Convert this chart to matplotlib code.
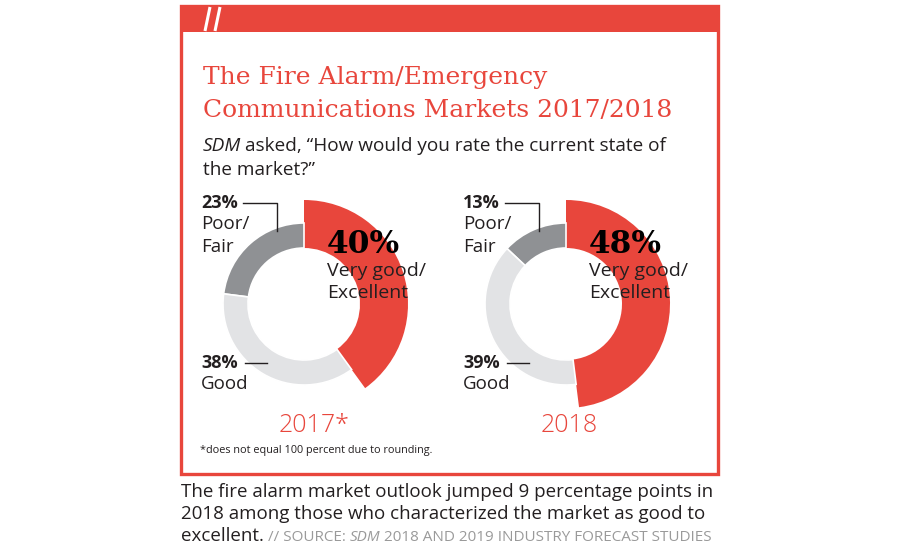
import matplotlib
matplotlib.use("Agg")
import matplotlib.pyplot as plt
from matplotlib.patches import Wedge, Rectangle

# --- data ---
years = ["2017*", "2018"]
very_good = [40, 48]     # Very good/Excellent
good = [38, 39]          # Good
poor = [23, 13]          # Poor/Fair

RED = "#E8463C"
DARK = "#8F9194"
LIGHT = "#E2E3E5"
INK = "#231F20"
SANS = "Open Sans"

fig = plt.figure(figsize=(9, 5.5), dpi=100)
ax = fig.add_axes([0, 0, 1, 1])
ax.set_xlim(0, 900); ax.set_ylim(550, 0)
ax.axis("off")
r = fig.canvas.get_renderer()

def run(x, y, parts, gap=4):
    """place text pieces one after another on a baseline"""
    for s, kw in parts:
        t = ax.text(x, y, s, va="baseline", ha="left", **kw)
        x += t.get_window_extent(r).width + gap
    return x

# frame + header band
ax.add_patch(Rectangle((181, 6), 537, 468, fill=False, edgecolor=RED, lw=2.4))
ax.add_patch(Rectangle((180, 5), 539, 27, color=RED, lw=0))
for x0 in (210, 220):
    ax.plot([x0, x0 - 5], [7, 31], color="white", lw=2.2, solid_capstyle="butt")

# title + question
ax.text(203, 84, "The Fire Alarm/Emergency", color=RED, family="DejaVu Serif",
        fontsize=18, va="baseline")
ax.text(203, 117, "Communications Markets 2017/2018", color=RED, family="DejaVu Serif",
        fontsize=18, va="baseline")
run(203, 151, [("SDM", dict(style="italic", family=SANS, fontsize=13.7, color=INK)),
               ("asked, \u201cHow would you rate the current state of",
                dict(family=SANS, fontsize=13.7, color=INK))])
ax.text(203, 175, "the market?\u201d", family=SANS, fontsize=13.7, color=INK, va="baseline")

# donuts
centers = [304, 566]
cy = 304
r_in, r_gray, r_red = 56, 81, 104
for i, cx in enumerate(centers):
    a_red = very_good[i] * 3.6
    a_poor = poor[i] * 3.6
    # y axis is inverted: increasing data angle runs clockwise on screen, 270 = top
    ax.add_patch(Wedge((cx, cy), r_red, 270, 270 + a_red, width=r_red - r_in,
                       facecolor=RED, edgecolor="none"))
    ax.add_patch(Wedge((cx, cy), r_gray, 270 - a_poor, 270, width=r_gray - r_in,
                       facecolor=DARK, edgecolor="white", lw=1.2))
    ax.add_patch(Wedge((cx, cy), r_gray, 270 + a_red, 360 + 270 - a_poor,
                       width=r_gray - r_in, facecolor=LIGHT, edgecolor="white", lw=1.2))

    lx = cx - 103
    # poor / fair
    ax.text(lx, 208, f"{poor[i]}%", family=SANS, fontweight="bold", fontsize=13,
            color=INK, va="baseline")
    ax.plot([lx + 42, cx - 27, cx - 27], [203, 203, 231], color=INK, lw=1)
    ax.text(lx, 229, "Poor/", family=SANS, fontsize=13.5, color=INK, va="baseline")
    ax.text(lx, 252, "Fair", family=SANS, fontsize=13.5, color=INK, va="baseline")
    # good
    ax.text(lx, 368, f"{good[i]}%", family=SANS, fontweight="bold", fontsize=13,
            color=INK, va="baseline")
    ax.plot([lx + 44, cx - 37], [363, 363], color=INK, lw=1)
    ax.text(lx, 389, "Good", family=SANS, fontsize=13.5, color=INK, va="baseline")
    # very good / excellent
    ax.text(cx + 23, 253, f"{very_good[i]}%", family="DejaVu Serif", fontweight="bold",
            fontsize=22.5, color="black", va="baseline")
    ax.text(cx + 23, 276, "Very good/", family=SANS, fontsize=14, color=INK, va="baseline")
    ax.text(cx + 23, 298, "Excellent", family=SANS, fontsize=14, color=INK, va="baseline")
    # year
    ax.text(cx - 25, 432, years[i], family=SANS, fontweight="light", fontsize=18,
            color=RED, ha="left", va="baseline")

ax.text(200, 453, "*does not equal 100 percent due to rounding.", family=SANS,
        fontsize=7.8, color=INK, va="baseline")

# caption
ax.text(181, 497, "The fire alarm market outlook jumped 9 percentage points in",
        family=SANS, fontsize=13.5, color=INK, va="baseline")
ax.text(181, 519, "2018 among those who characterized the market as good to",
        family=SANS, fontsize=13.5, color=INK, va="baseline")
src = dict(family=SANS, fontsize=11, color="#9A9A9A")
run(181, 541, [("excellent.", dict(family=SANS, fontsize=13.5, color=INK)),
               ("// SOURCE:", src),
               ("SDM", dict(src, style="italic")),
               ("2018 AND 2019 INDUSTRY FORECAST STUDIES", src)])

fig.savefig("out.png", dpi=100)
